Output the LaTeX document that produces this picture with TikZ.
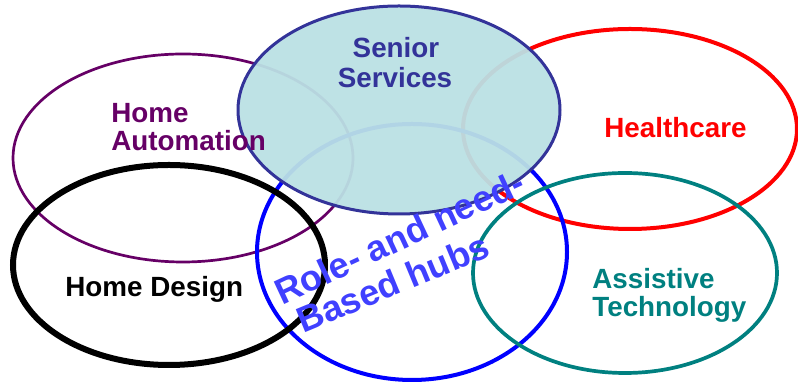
\documentclass[tikz,border=0pt]{standalone}
\usepackage{fontspec}
\setmainfont{Liberation Sans}
\definecolor{hapurple}{HTML}{660066}
\definecolor{ssblue}{HTML}{333399}
\definecolor{ssfill}{RGB}{187,224,228}
\definecolor{hcred}{HTML}{FF0000}
\definecolor{atteal}{HTML}{008080}
\definecolor{rhblue}{HTML}{0000FF}
\definecolor{rhtext}{RGB}{64,64,255}
\tikzset{
  lbl/.style={inner sep=0pt, font=\bfseries\fontsize{13.9}{14}\selectfont},
  rolelbl/.style={inner sep=0pt, anchor=base west, text=rhtext, font=\bfseries\fontsize{18}{18}\selectfont},
}
\begin{document}
\begin{tikzpicture}[x=0.5pt,y=-0.5pt]
\useasboundingbox (0,0) rectangle (798,383);
% ellipses
\draw[hapurple, line width=1.35pt] (183,158) ellipse [x radius=170, y radius=104];
\draw[hcred, line width=2pt] (630,129) ellipse [x radius=167, y radius=100];
\draw[rhblue, line width=2pt] (412,252) ellipse [x radius=155, y radius=128];
\draw[atteal, line width=1.85pt] (625,273) ellipse [x radius=152, y radius=100];
\draw[black, line width=3pt] (169,265) ellipse [x radius=156, y radius=100];
\draw[ssblue, line width=1.5pt, fill=ssfill, fill opacity=0.95] (399,110) ellipse [x radius=161, y radius=104];
% labels
\node[lbl, text=ssblue, anchor=base] (ss1) at (396,58) {Senior};
\node[lbl, text=ssblue, anchor=base] (ss2) at (395,88) {Services};
\node[lbl, text=hapurple, anchor=base west] (ha1) at (111,123) {Home};
\node[lbl, text=hapurple, anchor=base west] (ha2) at (111,151) {Automation};
\node[lbl, text=hcred, anchor=base west] (hc) at (604,138) {Healthcare};
\node[lbl, text=atteal, anchor=base west] (at1) at (592,289) {Assistive};
\node[lbl, text=atteal, anchor=base west] (at2) at (592,317) {Technology};
\node[lbl, text=black, anchor=base west] (hd) at (65,297) {Home Design};
\node[rolelbl, rotate=25] (rh1) at (282,306) {Role- and need-};
\node[rolelbl, rotate=22.5] (rh2) at (303,334) {Based hubs};
\end{tikzpicture}
\end{document}
